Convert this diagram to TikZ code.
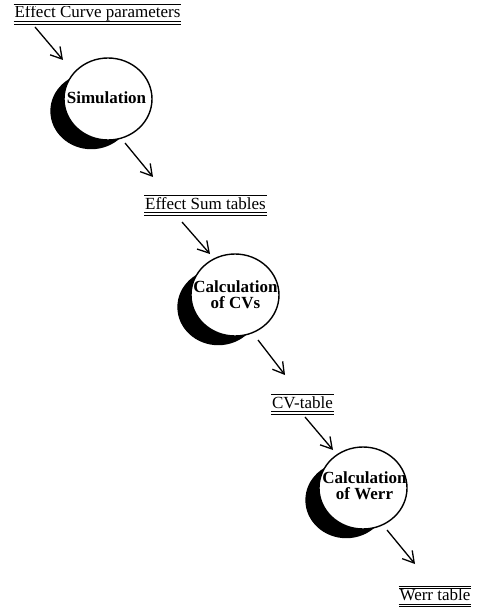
\documentclass[tikz,border=0pt]{standalone}
\usepackage{fontspec}
\setmainfont{Liberation Serif}
\usetikzlibrary{arrows.meta,shapes.geometric,shadows}

\tikzset{
  store/.style={font=\fontsize{17}{18}\selectfont, inner xsep=1pt, inner ysep=1.5pt,
    text height=11.5pt, text depth=3.5pt, outer sep=0pt},
  ruletop/.style={line width=0.8pt, double distance=0.6pt, double=white},
  rulebottom/.style={line width=0.9pt, double distance=1.5pt, double=white},
  bubble/.style={ellipse, draw, line width=1.4pt, fill=white, inner sep=0pt,
    minimum width=88pt, minimum height=82pt,
    drop shadow={shadow xshift=-18pt, shadow yshift=-13pt, shadow scale=0.93,
      fill=black, opacity=1}},
  bubbletext/.style={font=\fontsize{17}{16}\selectfont\bfseries, align=center, inner sep=0pt},
  flow/.style={line width=1.3pt, -{Straight Barb[length=11pt,width=13pt]}}
}

\begin{document}
\begin{tikzpicture}[x=1pt, y=-1pt]
  \useasboundingbox (0,0) rectangle (481,607);

  % data stores
  \node[store] (s1) at (97.5,14)  {Effect Curve parameters};
  \node[store] (s2) at (205.5,205) {Effect Sum tables};
  \node[store] (s3) at (302.5,404) {CV-table};
  \node[store] (s4) at (435,596.5) {Werr table};
  \foreach \s in {s1,s2,s3,s4} {
    \draw[ruletop] (\s.north west) -- (\s.north east);
    \draw[rulebottom] (\s.south west) -- (\s.south east);
  }

  % processes
  \node[bubble] (c1) at (108,99)  {};
  \node[bubble] (c2) at (235,295) {};
  \node[bubble] (c3) at (363,488) {};
  \node[bubbletext] (l1) at ([xshift=-1.5pt,yshift=1.5pt]c1.center) {Simulation};
  \node[bubbletext] (l2) at ([xshift=0.5pt,yshift=0.5pt]c2.center) {Calculation\\of CVs};
  \node[bubbletext] (l3) at ([xshift=1.5pt,yshift=2pt]c3.center) {Calculation\\of Werr};

  % arrow ends
  \coordinate (a1) at (35,27);   \coordinate (b1) at (63,60);
  \coordinate (a2) at (125,143); \coordinate (b2) at (153,177);
  \coordinate (a3) at (182,222); \coordinate (b3) at (210,254);
  \coordinate (a4) at (258,340); \coordinate (b4) at (285,375);
  \coordinate (a5) at (305,417); \coordinate (b5) at (333,450);
  \coordinate (a6) at (387,530); \coordinate (b6) at (415,564);
  \foreach \i in {1,...,6} { \draw[flow] (a\i) -- (b\i); }
\end{tikzpicture}
\end{document}
